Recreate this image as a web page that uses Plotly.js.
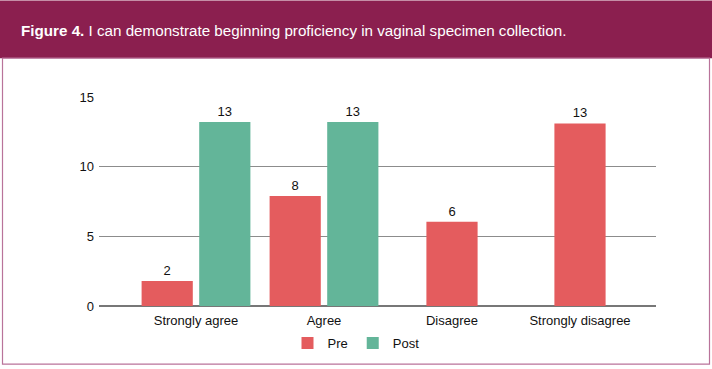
<!DOCTYPE html>
<html>
<head>
<meta charset="utf-8">
<script src="https://cdn.plot.ly/plotly-3.0.1.min.js"></script>
<style>
html,body{margin:0;padding:0;background:#fff;}
#chart{width:712px;height:369px;}
</style>
</head>
<body>
<div id="chart"></div>
<script>
// ---- data ----
const categories = ["Strongly agree", "Agree", "Disagree", "Strongly disagree"];
const preValues  = [1.8, 7.9, 6.05, 13.1];
const postValues = [13.2, 13.2, null, null];
const preLabels  = ["2", "8", "6", "13"];
const postLabels = ["13", "13", "", ""];
const yTicks = [0, 5, 10, 15];
const seriesNames = ["Pre", "Post"];
const titleText = "<b>Figure 4.</b> I can demonstrate beginning proficiency in vaginal specimen collection.";

// ---- layout constants ----
const W = 712, H = 369;
const M = {l: 99, r: 56, t: 97, b: 62};
const PW = W - M.l - M.r, PH = H - M.t - M.b;
const px = x => (x - M.l) / PW;            // container px -> paper x
const py = y => (H - M.b - y) / PH;        // container px -> paper y
const barW = 0.4, gap = 0.05;
const preColor = "#E45C5E", postColor = "#63B599", band = "#8B1F4F";

const preOffset = postValues.map(v => (v === null ? -barW / 2 : -barW - gap / 2));
const postOffset = postValues.map(() => gap / 2);

const font = "Liberation Sans, Arial, Helvetica, sans-serif";

const traces = [
  {
    type: "bar", name: seriesNames[0], x: categories, y: preValues,
    width: barW, offset: preOffset,
    marker: {color: preColor},
    text: preLabels, textposition: "outside", cliponaxis: false,
    textfont: {size: 13, color: "#111", family: font},
    hoverinfo: "x+y+name"
  },
  {
    type: "bar", name: seriesNames[1], x: categories, y: postValues,
    width: barW, offset: postOffset,
    marker: {color: postColor},
    text: postLabels, textposition: "outside", cliponaxis: false,
    textfont: {size: 13, color: "#111", family: font},
    hoverinfo: "x+y+name"
  }
];

const layout = {
  width: W, height: H,
  margin: M,
  paper_bgcolor: "#fff", plot_bgcolor: "rgba(0,0,0,0)",
  font: {family: font, size: 13, color: "#111"},
  barmode: "overlay",
  title: {
    text: titleText,
    font: {family: font, size: 15.2, color: "#fff"},
    xref: "container", yref: "container",
    x: 21 / W, xanchor: "left",
    y: 1 - 31 / H, yanchor: "middle"
  },
  xaxis: {
    type: "category",
    range: [-(196 - M.l) / 128, (W - M.r - 196) / 128],
    showgrid: false, zeroline: false, showline: false,
    ticks: "", tickfont: {size: 13, family: font, color: "#111"},
    ticklabelstandoff: 5,
    fixedrange: true
  },
  yaxis: {
    range: [0, 15], tickvals: yTicks, ticktext: yTicks.map(String),
    showgrid: true, gridcolor: "#8c8c8c", gridwidth: 1.6,
    zeroline: true, zerolinecolor: "#777", zerolinewidth: 1.6,
    showline: false, ticks: "",
    tickfont: {size: 13, family: font, color: "#111"},
    ticklabelstandoff: 4,
    fixedrange: true
  },
  showlegend: true,
  legend: {
    orientation: "h", x: px(356), xanchor: "center",
    y: py(343), yanchor: "middle",
    font: {size: 13, family: font, color: "#111"},
    itemwidth: 30, traceorder: "normal"
  },
  shapes: [
    {type: "rect", xref: "paper", yref: "paper", layer: "below",
     x0: px(0), x1: px(W), y0: py(58), y1: py(0),
     fillcolor: band, line: {width: 0}},
    {type: "rect", xref: "paper", yref: "paper", layer: "below",
     x0: px(2.5), x1: px(709.5), y0: py(365.5), y1: py(58),
     fillcolor: "rgba(0,0,0,0)", line: {color: "#B9739A", width: 1.2}}
  ]
};

Plotly.newPlot("chart", traces, layout, {displayModeBar: false, staticPlot: true});
</script>
</body>
</html>
